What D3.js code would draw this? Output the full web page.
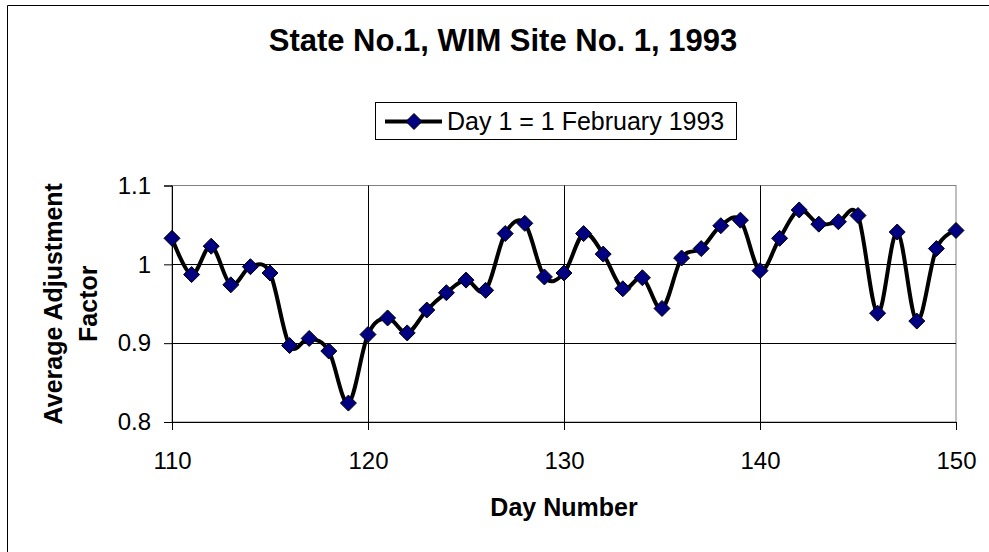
<!DOCTYPE html>
<html>
<head>
<meta charset="utf-8">
<script src="https://cdn.jsdelivr.net/npm/d3@7"></script>
<style>
  html, body { margin: 0; padding: 0; background: #fff; }
  svg { display: block; }
</style>
</head>
<body>
<div id="chart"></div>
<script>
(function() {
    'use strict';

    // data
    const days = [110, 111, 112, 113, 114, 115, 116, 117, 118, 119,
                  120, 121, 122, 123, 124, 125, 126, 127, 128, 129,
                  130, 131, 132, 133, 134, 135, 136, 137, 138, 139,
                  140, 141, 142, 143, 144, 145, 146, 147, 148, 149, 150];
    const factors = [1.033, 0.987, 1.023, 0.974, 0.997, 0.989, 0.897, 0.906, 0.890, 0.824,
                     0.911, 0.932, 0.913, 0.942, 0.964, 0.980, 0.967, 1.039, 1.052, 0.984,
                     0.989, 1.039, 1.013, 0.969, 0.983, 0.944, 1.008, 1.020, 1.049, 1.056,
                     0.992, 1.033, 1.069, 1.051, 1.054, 1.062, 0.938, 1.041, 0.928, 1.020, 1.043];
    const xTicks = [110, 120, 130, 140, 150];
    const yTicks = [0.8, 0.9, 1, 1.1];
    const seriesName = 'Day 1 = 1 February 1993';
    const title = 'State No.1, WIM Site No. 1, 1993';

    const points = days.map((d, i) => ({day: d, value: factors[i]}));

    const width = 989, height = 552;
    const left = 172, right = 956, top = 185.5, bottom = 422;
    const font = 'Arial, "Liberation Sans", sans-serif';

    const svg = d3.select('#chart').append('svg')
        .attr('width', width)
        .attr('height', height);

    // chart frame (only left and top edges fall inside the picture)
    svg.append('path')
        .attr('d', `M7.5,${height}V5.5H${width}`)
        .attr('fill', 'none')
        .attr('stroke', '#000')
        .attr('stroke-width', 1);

    const x = d3.scaleLinear().domain([110, 150]).range([left, right]);
    const y = d3.scaleLinear().domain([0.8, 1.1]).range([bottom, top]);

    // plot area border
    svg.append('rect')
        .attr('x', left).attr('y', top)
        .attr('width', right - left).attr('height', bottom - top)
        .attr('fill', 'none')
        .attr('stroke', '#808080')
        .attr('stroke-width', 1);

    // gridlines
    svg.append('g').selectAll('line').data(yTicks.slice(1, -1)).enter().append('line')
        .attr('x1', left).attr('x2', right)
        .attr('y1', d => Math.round(y(d)) + 0.5).attr('y2', d => Math.round(y(d)) + 0.5)
        .attr('stroke', '#000').attr('stroke-width', 1);
    svg.append('g').selectAll('line').data(xTicks.slice(1, -1)).enter().append('line')
        .attr('x1', d => Math.round(x(d)) + 0.5).attr('x2', d => Math.round(x(d)) + 0.5)
        .attr('y1', top).attr('y2', bottom)
        .attr('stroke', '#000').attr('stroke-width', 1);

    // axes
    const xAxis = svg.append('g')
        .attr('transform', `translate(0,${bottom})`)
        .call(d3.axisBottom(x).tickValues(xTicks).tickSize(8).tickPadding(22).tickFormat(d3.format('d')));
    const yAxis = svg.append('g')
        .attr('transform', `translate(${left},0)`)
        .call(d3.axisLeft(y).tickValues(yTicks).tickSize(8).tickPadding(13).tickFormat(d => String(+d.toFixed(1))));

    [xAxis, yAxis].forEach(a => {
        a.select('.domain').attr('stroke', '#000').attr('stroke-width', 1);
        a.selectAll('.tick line').attr('stroke', '#000');
        a.selectAll('.tick text')
            .attr('fill', '#000')
            .style('font-family', font)
            .style('font-size', '24px');
    });

    // series line (smoothed)
    const line = d3.line()
        .x(d => x(d.day))
        .y(d => y(d.value))
        .curve(d3.curveCardinal.tension(0));

    svg.append('path')
        .datum(points)
        .attr('d', line)
        .attr('fill', 'none')
        .attr('stroke', '#000')
        .attr('stroke-width', 4)
        .attr('stroke-linejoin', 'round');

    const diamond = 'M0,-8L8,0L0,8L-8,0Z';

    svg.append('g').selectAll('path').data(points).enter().append('path')
        .attr('d', diamond)
        .attr('transform', d => `translate(${x(d.day)},${y(d.value)})`)
        .attr('fill', '#000080')
        .attr('stroke', '#000')
        .attr('stroke-width', 1);

    // title
    svg.append('text')
        .attr('x', 503).attr('y', 51)
        .attr('text-anchor', 'middle')
        .style('font-family', font)
        .style('font-size', '31px')
        .style('font-weight', 'bold')
        .text(title);

    // legend
    const legend = svg.append('g');
    legend.append('rect')
        .attr('x', 375.5).attr('y', 102.5)
        .attr('width', 361).attr('height', 37)
        .attr('fill', '#fff')
        .attr('stroke', '#000')
        .attr('stroke-width', 1);
    legend.append('line')
        .attr('x1', 385).attr('x2', 442)
        .attr('y1', 121.5).attr('y2', 121.5)
        .attr('stroke', '#000').attr('stroke-width', 4);
    legend.append('path')
        .attr('d', diamond)
        .attr('transform', 'translate(414,121.5)')
        .attr('fill', '#000080')
        .attr('stroke', '#000');
    legend.append('text')
        .attr('x', 447).attr('y', 130)
        .style('font-family', font)
        .style('font-size', '25px')
        .text(seriesName);

    // axis titles
    svg.append('text')
        .attr('x', (left + right) / 2).attr('y', 516)
        .attr('text-anchor', 'middle')
        .style('font-family', font)
        .style('font-size', '25px')
        .style('font-weight', 'bold')
        .text('Day Number');

    const yTitle = svg.append('text')
        .attr('transform', `translate(0,${(top + bottom) / 2}) rotate(-90)`)
        .attr('text-anchor', 'middle')
        .style('font-family', font)
        .style('font-size', '25px')
        .style('font-weight', 'bold');
    yTitle.append('tspan').attr('x', 0).attr('y', 62).text('Average Adjustment');
    yTitle.append('tspan').attr('x', 0).attr('y', 97).text('Factor');
}());
</script>
</body>
</html>
